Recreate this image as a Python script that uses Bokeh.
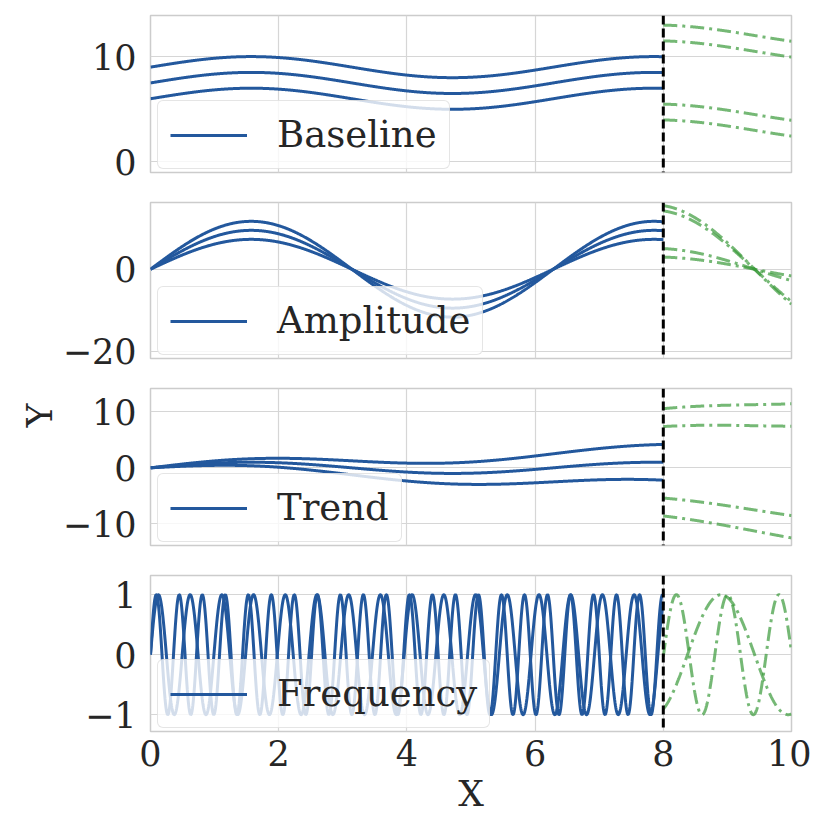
import numpy as np
from bokeh.plotting import figure
from bokeh.layouts import column
from bokeh.models import Span, Title, FixedTicker, Range1d, CustomJSTickFormatter
from bokeh.embed import file_html
from bokeh.resources import INLINE

# ---- data ----
panel_names = ["Baseline", "Amplitude", "Trend", "Frequency"]
x_ticks = [0, 2, 4, 6, 8, 10]
split_x = 8.0
x_max = 10.0

baseline_offsets_train = [6.0, 7.5, 9.0]
baseline_offsets_test = [3.0, 4.5, 10.5, 12.0]
amplitude_train = [7.3, 9.5, 11.7]
amplitude_test = [3.0, 5.1, 14.4, 15.7]
trend_slopes_train = [-0.4, 0.0, 0.4]
trend_slopes_test = [-1.2, -0.8, 0.8, 1.2]
frequency_train = [12.7, 17.5]
frequency_test = [3.0, 7.85]

y_ticks = [[0, 10], [-20, 0], [-10, 0, 10], [-1, 0, 1]]
y_limits = [(-1.0, 13.9), (-21.8, 16.3), (-13.9, 14.2), (-1.28, 1.32)]

# ---- curve families ----
def baseline(x, c):
    return c + np.sin(x)

def amplitude(x, a):
    return a * np.sin(x)

def trend(x, s):
    return np.sin(x) + s * x

def frequency(x, w):
    return np.sin(w * x)

families = [
    (baseline, baseline_offsets_train, baseline_offsets_test),
    (amplitude, amplitude_train, amplitude_test),
    (trend, trend_slopes_train, trend_slopes_test),
    (frequency, frequency_train, frequency_test),
]

x_train = np.linspace(0.0, split_x, 1200)
x_test = np.linspace(split_x, x_max, 400)

FONT = "DejaVu Serif"
TXT = "#262626"
BLUE = "#23589d"
GREEN = "#3a9a3a"

minus_fmt = CustomJSTickFormatter(code="return tick < 0 ? '\u2212' + (-tick) : '' + tick;")

frame_heights = [157, 156, 157, 156]
borders_top = [15, 15, 15, 15]
borders_bottom = [15, 15, 15, 85]

figs = []
for i, (name, (fn, train_vals, test_vals)) in enumerate(zip(panel_names, families)):
    last = i == 3
    p = figure(
        frame_width=641, frame_height=frame_heights[i],
        min_border_left=150, min_border_right=20,
        min_border_top=borders_top[i], min_border_bottom=borders_bottom[i],
        x_range=Range1d(0, x_max), y_range=Range1d(*y_limits[i]),
        x_axis_location="below" if last else None,
        output_backend="svg", toolbar_location=None,
    )
    p.background_fill_color = "white"
    p.border_fill_color = "white"
    p.outline_line_color = "#cccccc"
    p.outline_line_width = 1.5

    p.xgrid.ticker = FixedTicker(ticks=x_ticks)
    p.ygrid.ticker = FixedTicker(ticks=y_ticks[i])
    for g in (p.xgrid, p.ygrid):
        g.grid_line_color = "#d6d6d6"
        g.grid_line_width = 1.2

    ya = p.yaxis[0]
    ya.ticker = FixedTicker(ticks=y_ticks[i])
    ya.formatter = minus_fmt
    ya.axis_line_color = None
    ya.major_tick_line_color = None
    ya.minor_tick_line_color = None
    ya.major_label_text_font = FONT
    ya.major_label_text_font_size = "35px"
    ya.major_label_text_color = TXT
    ya.major_label_standoff = 8

    if last:
        xa = p.xaxis[0]
        xa.ticker = FixedTicker(ticks=x_ticks)
        xa.formatter = minus_fmt
        xa.axis_line_color = None
        xa.major_tick_line_color = None
        xa.minor_tick_line_color = None
        xa.major_label_text_font = FONT
        xa.major_label_text_font_size = "35px"
        xa.major_label_text_color = TXT
        xa.major_label_standoff = 2
        xa.axis_label = "X"
        xa.axis_label_text_font = FONT
        xa.axis_label_text_font_size = "36px"
        xa.axis_label_text_font_style = "normal"
        xa.axis_label_text_color = TXT
        xa.axis_label_standoff = 4

    for j, v in enumerate(train_vals):
        kw = dict(legend_label=name) if j == 0 else {}
        p.line(x_train, fn(x_train, v), line_color=BLUE, line_width=3, **kw)
    for v in test_vals:
        p.line(x_test, fn(x_test, v), line_color=GREEN, line_width=3,
               line_alpha=0.7, line_dash="14 5 3 5")

    p.add_layout(Span(location=split_x, dimension="height", line_color="black",
                      line_width=3, line_dash="9 4"))

    lg = p.legend[0]
    lg.location = (7, 3)
    lg.label_text_font = FONT
    lg.label_text_font_size = "37px"
    lg.label_text_color = TXT
    lg.glyph_width = 77
    lg.glyph_height = 40
    lg.label_standoff = 30
    lg.padding = 12
    lg.spacing = 0
    lg.margin = 0
    lg.border_line_color = "#cccccc"
    lg.border_line_width = 1.5
    lg.background_fill_color = "white"
    lg.background_fill_alpha = 0.8
    try:
        lg.border_radius = 6
    except Exception:
        pass

    if i == 2:
        p.add_layout(Title(text="Y\u00a0\u200a", align="right", standoff=0,
                           text_font=FONT, text_font_size="36px",
                           text_font_style="normal", text_color=TXT), "left")
    figs.append(p)

layout = column(*figs, spacing=0)
open("out.html", "w").write(file_html(layout, INLINE))
